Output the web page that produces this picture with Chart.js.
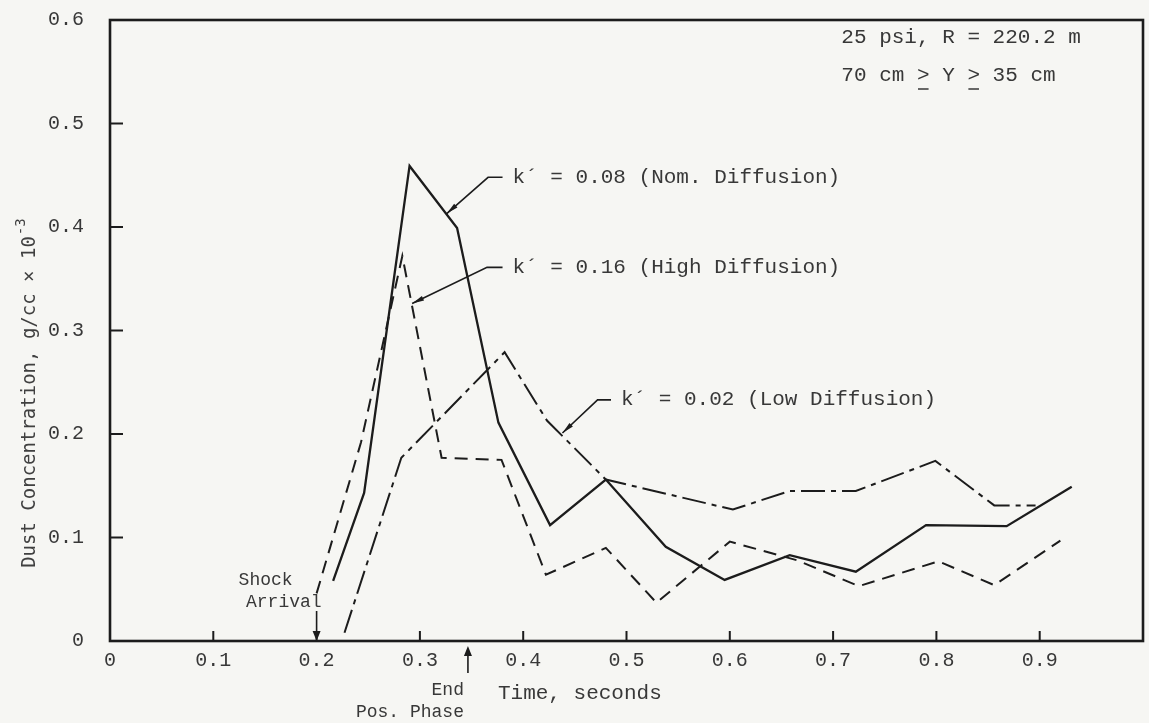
<!DOCTYPE html>
<html>
<head>
<meta charset="utf-8">
<title>Dust Concentration</title>
<script src="https://cdn.jsdelivr.net/npm/chart.js@4.4.0/dist/chart.umd.min.js"></script>
<style>
  html, body { margin: 0; padding: 0; background: #f6f6f3; }
  #wrap { width: 1149px; height: 723px; }
</style>
</head>
<body>
<div id="wrap"><canvas id="mycanvas" width="1149" height="723"></canvas></div>
<script>
// k' = 0.08 (nominal diffusion)
var nomTime = [0.216, 0.246, 0.290, 0.336, 0.376, 0.426, 0.480, 0.538, 0.595, 0.658, 0.722, 0.790, 0.868, 0.931];
var nomConc = [0.058, 0.143, 0.459, 0.399, 0.211, 0.112, 0.156, 0.091, 0.059, 0.083, 0.067, 0.112, 0.111, 0.149];

// k' = 0.16 (high diffusion)
var highTime = [0.200, 0.243, 0.283, 0.321, 0.379, 0.422, 0.480, 0.529, 0.600, 0.665, 0.725, 0.802, 0.856, 0.920];
var highConc = [0.046, 0.192, 0.372, 0.177, 0.175, 0.064, 0.090, 0.037, 0.096, 0.078, 0.053, 0.077, 0.054, 0.097];

// k' = 0.02 (low diffusion)
var lowTime = [0.227, 0.282, 0.382, 0.423, 0.480, 0.603, 0.658, 0.722, 0.799, 0.856, 0.896];
var lowConc = [0.008, 0.177, 0.279, 0.213, 0.156, 0.127, 0.145, 0.145, 0.174, 0.131, 0.131];

var xTickValues = [0, 0.1, 0.2, 0.3, 0.4, 0.5, 0.6, 0.7, 0.8, 0.9];
var xTickLabels = ['0', '0.1', '0.2', '0.3', '0.4', '0.5', '0.6', '0.7', '0.8', '0.9'];
var yTickValues = [0, 0.1, 0.2, 0.3, 0.4, 0.5, 0.6];
var yTickLabels = ['0', '0.1', '0.2', '0.3', '0.4', '0.5', '0.6'];

var ink = '#1c1c1c';
var textInk = '#383838';
var typeFont = '"Liberation Mono", "DejaVu Sans Mono", monospace';

function toPoints(xs, ys) {
	var pts = [];
	for (var i in xs) {
		pts.push({x: xs[i], y: ys[i]});
	}
	return pts;
}

function arrowHead(ctx, x0, y0, x1, y1, len, half) {
	var a = Math.atan2(y1 - y0, x1 - x0);
	ctx.beginPath();
	ctx.moveTo(x1, y1);
	ctx.lineTo(x1 - len * Math.cos(a) + half * Math.sin(a), y1 - len * Math.sin(a) - half * Math.cos(a));
	ctx.lineTo(x1 - len * Math.cos(a) - half * Math.sin(a), y1 - len * Math.sin(a) + half * Math.cos(a));
	ctx.closePath();
	ctx.fill();
}

// labels with a bent leader line ending in an arrow on the curve
var leaders = [
	{text: 'k\u00b4 = 0.08 (Nom. Diffusion)', path: [[0.380, 0.448], [0.366, 0.448], [0.326, 0.413]]},
	{text: 'k\u00b4 = 0.16 (High Diffusion)', path: [[0.380, 0.361], [0.365, 0.361], [0.2925, 0.326]]},
	{text: 'k\u00b4 = 0.02 (Low Diffusion)', path: [[0.485, 0.233], [0.472, 0.233], [0.438, 0.201]]}
];

var frame = {
	id: 'frame',
	beforeDraw: function(chart) {
		var ctx = chart.ctx;
		ctx.save();
		ctx.fillStyle = '#f6f6f3';
		ctx.fillRect(0, 0, chart.width, chart.height);
		ctx.restore();
	},
	afterDraw: function(chart) {
		var ctx = chart.ctx;
		var a = chart.chartArea;
		var xs = chart.scales.x;
		var ys = chart.scales.y;
		ctx.save();

		// box around the plot
		ctx.strokeStyle = ink;
		ctx.lineWidth = 2.6;
		ctx.strokeRect(a.left, a.top, a.right - a.left, a.bottom - a.top);

		// tick marks point inward
		ctx.lineWidth = 2;
		ctx.beginPath();
		xTickValues.forEach(function(v) {
			if (v === 0) return;
			var px = xs.getPixelForValue(v);
			ctx.moveTo(px, a.bottom);
			ctx.lineTo(px, a.bottom - 10);
		});
		yTickValues.forEach(function(v) {
			if (v === 0 || v === 0.6) return;
			var py = ys.getPixelForValue(v);
			ctx.moveTo(a.left, py);
			ctx.lineTo(a.left + 13, py);
		});
		ctx.stroke();

		// leader lines
		ctx.fillStyle = ink;
		ctx.lineWidth = 1.6;
		leaders.forEach(function(l) {
			var p = l.path.map(function(q) { return [xs.getPixelForValue(q[0]), ys.getPixelForValue(q[1])]; });
			ctx.beginPath();
			ctx.moveTo(p[0][0], p[0][1]);
			for (var i = 1; i < p.length; i++) ctx.lineTo(p[i][0], p[i][1]);
			ctx.stroke();
			arrowHead(ctx, p[1][0], p[1][1], p[2][0], p[2][1], 12, 2.5);
			ctx.font = '21px ' + typeFont;
			ctx.fillStyle = textInk;
			ctx.textBaseline = 'middle';
			ctx.textAlign = 'left';
			ctx.fillText(l.text, p[0][0] + 10, p[0][1]);
			ctx.fillStyle = ink;
		});

		// shock arrival and end of positive phase markers
		var sx = xs.getPixelForValue(0.2);
		ctx.beginPath();
		ctx.moveTo(sx, a.bottom - 30);
		ctx.lineTo(sx, a.bottom - 8);
		ctx.stroke();
		arrowHead(ctx, sx, a.bottom - 20, sx, a.bottom, 10, 4);

		var ex = xs.getPixelForValue(0.3465);
		ctx.beginPath();
		ctx.moveTo(ex, a.bottom + 32);
		ctx.lineTo(ex, a.bottom + 8);
		ctx.stroke();
		arrowHead(ctx, ex, a.bottom + 20, ex, a.bottom + 5, 10, 4);

		ctx.fillStyle = textInk;
		ctx.textBaseline = 'middle';
		ctx.font = '18px ' + typeFont;
		ctx.textAlign = 'right';
		ctx.fillText('Shock', sx - 24, a.bottom - 61);
		ctx.fillText('Arrival', sx + 5, a.bottom - 39);
		ctx.fillText('End', ex - 4, a.bottom + 49);
		ctx.fillText('Pos. Phase', ex - 4, a.bottom + 71);

		ctx.font = '21px ' + typeFont;
		ctx.textAlign = 'left';
		ctx.fillText('Time, seconds', ex + 30, a.bottom + 52);

		// run conditions, upper right
		var tx = xs.getPixelForValue(0.708);
		ctx.fillText('25 psi, R = 220.2 m', tx, a.top + 17);
		var line2 = '70 cm > Y > 35 cm';
		ctx.fillText(line2, tx, a.top + 55);
		ctx.lineWidth = 1.4;
		ctx.strokeStyle = textInk;
		ctx.beginPath();
		[6, 10].forEach(function(idx) {
			var u0 = tx + ctx.measureText(line2.slice(0, idx)).width;
			var u1 = tx + ctx.measureText(line2.slice(0, idx + 1)).width;
			ctx.moveTo(u0 + 1, a.top + 69);
			ctx.lineTo(u1 - 1, a.top + 69);
		});
		ctx.stroke();

		// y axis title with superscript exponent
		ctx.save();
		ctx.translate(30, 390);
		ctx.rotate(-Math.PI / 2);
		ctx.font = '19px "DejaVu Sans Mono", monospace';
		ctx.fillStyle = '#404040';
		ctx.textAlign = 'center';
		var main = 'Dust Concentration, g/cc \u00d7 10';
		var w = ctx.measureText(main).width;
		ctx.fillText(main, -12, 0);
		ctx.font = '14px "DejaVu Sans Mono", monospace';
		ctx.textAlign = 'left';
		ctx.fillText('-3', -12 + w / 2 + 1, -9);
		ctx.restore();

		ctx.restore();
	}
};

var chartdata = {
	datasets: [
		{
			label: "k' = 0.08 (Nom. Diffusion)",
			data: toPoints(nomTime, nomConc),
			borderColor: ink,
			borderWidth: 2.3,
			pointRadius: 0,
			fill: false
		},
		{
			label: "k' = 0.16 (High Diffusion)",
			data: toPoints(highTime, highConc),
			borderColor: ink,
			borderWidth: 2,
			borderDash: [13, 8],
			pointRadius: 0,
			fill: false
		},
		{
			label: "k' = 0.02 (Low Diffusion)",
			data: toPoints(lowTime, lowConc),
			borderColor: ink,
			borderWidth: 2,
			borderDash: [24, 6, 5, 6],
			pointRadius: 0,
			fill: false
		}
	]
};

var ctx = document.getElementById('mycanvas');

var lineGraph = new Chart(ctx, {
	type: 'line',
	data: chartdata,
	options: {
		responsive: false,
		animation: false,
		layout: {
			padding: {left: 0, right: 6, top: 20, bottom: 0}
		},
		plugins: {
			legend: {display: false},
			tooltip: {enabled: false}
		},
		scales: {
			x: {
				type: 'linear',
				min: 0,
				max: 1,
				grid: {display: false, drawTicks: false},
				border: {display: false},
				afterBuildTicks: function(scale) {
					scale.ticks = xTickValues.map(function(v) { return {value: v}; });
				},
				afterFit: function(scale) {
					scale.height = 82;
					scale.paddingLeft = 0;
					scale.paddingRight = 0;
				},
				ticks: {
					autoSkip: false,
					maxRotation: 0,
					padding: 8,
					color: textInk,
					font: {family: typeFont, size: 20},
					callback: function(value, index) { return xTickLabels[index]; }
				}
			},
			y: {
				min: 0,
				max: 0.6,
				grid: {display: false, drawTicks: false},
				border: {display: false},
				afterBuildTicks: function(scale) {
					scale.ticks = yTickValues.map(function(v) { return {value: v}; });
				},
				afterFit: function(scale) {
					scale.width = 110;
					scale.paddingTop = 0;
					scale.paddingBottom = 0;
				},
				ticks: {
					padding: 26,
					color: textInk,
					font: {family: typeFont, size: 20},
					callback: function(value, index) { return yTickLabels[index]; }
				}
			}
		}
	},
	plugins: [frame]
});
</script>
</body>
</html>
